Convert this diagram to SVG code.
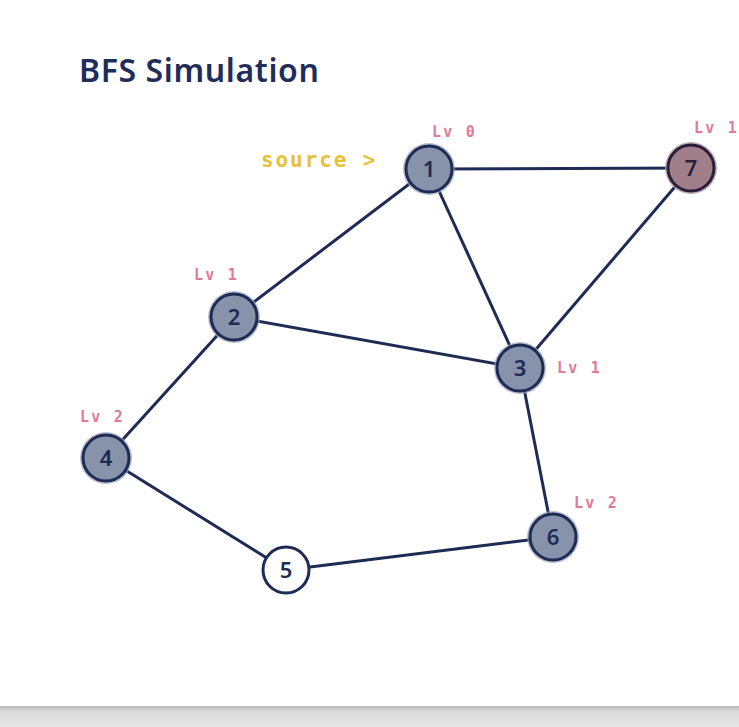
<svg xmlns="http://www.w3.org/2000/svg" width="739" height="727" viewBox="0 0 739 727">
<defs>
<style>
.title{font-family:"Noto Sans","Open Sans",sans-serif;font-weight:600;font-size:32px;letter-spacing:0.6px;fill:#1f2d5a}
.edge{stroke:#1e2b55;stroke-width:3;fill:none}
.halo{fill:#9aa3b8;opacity:0.7}
.node{fill:#8693aa;stroke:#1e2b55;stroke-width:3}
.num{font-family:"Noto Sans","Open Sans",sans-serif;font-weight:600;font-size:22px;fill:#1e2b55;text-anchor:middle}
.lv{font-family:"DejaVu Sans Mono","Liberation Mono",monospace;font-weight:bold;font-size:15px;letter-spacing:2.2px;fill:#e07a9a}
.src{font-family:"DejaVu Sans Mono","Liberation Mono",monospace;font-weight:bold;font-size:21px;letter-spacing:1.9px;fill:#e8c13a}
</style>
<linearGradient id="bar" x1="0" y1="0" x2="0" y2="1">
<stop offset="0" stop-color="#b9b9b9"/>
<stop offset="0.25" stop-color="#dadada"/>
<stop offset="1" stop-color="#e6e6e6"/>
</linearGradient>
</defs>
<rect width="739" height="727" fill="#ffffff"/>
<rect x="0" y="706" width="739" height="21" fill="url(#bar)"/>
<text class="title" x="79" y="82">BFS Simulation</text>
<g id="connectors">
<line class="edge" x1="429" y1="169" x2="691" y2="168"/>
<line class="edge" x1="429" y1="169" x2="234" y2="317"/>
<line class="edge" x1="429" y1="169" x2="520" y2="368"/>
<line class="edge" x1="234" y1="317" x2="520" y2="368"/>
<line class="edge" x1="691" y1="168" x2="520" y2="368"/>
<line class="edge" x1="234" y1="317" x2="106" y2="458"/>
<line class="edge" x1="106" y1="458" x2="286" y2="570"/>
<line class="edge" x1="286" y1="570" x2="553" y2="537"/>
<line class="edge" x1="520" y1="368" x2="553" y2="537"/>
</g>
<text class="src" x="261" y="167">source &gt;</text>
<g id="node1">
<circle class="halo" cx="429" cy="169" r="26"/>
<circle class="node" cx="429" cy="169" r="23"/>
<text class="num" x="429" y="177">1</text>
<text class="lv" x="432" y="137">Lv 0</text>
</g>
<g id="node7">
<circle cx="691" cy="168" r="26" fill="#b49aa3" opacity="0.8"/>
<circle cx="691" cy="168" r="23" fill="#a07f8a" stroke="#2a1f3a" stroke-width="3"/>
<text class="num" x="691" y="176" style="fill:#2a1f3a">7</text>
<text class="lv" x="694" y="133">Lv 1</text>
</g>
<g id="node2">
<circle class="halo" cx="234" cy="317" r="26"/>
<circle class="node" cx="234" cy="317" r="23"/>
<text class="num" x="234" y="325">2</text>
<text class="lv" x="194" y="280">Lv 1</text>
</g>
<g id="node3">
<circle class="halo" cx="520" cy="368" r="26"/>
<circle class="node" cx="520" cy="368" r="23"/>
<text class="num" x="520" y="376">3</text>
<text class="lv" x="557" y="373">Lv 1</text>
</g>
<g id="node4">
<circle class="halo" cx="106" cy="458" r="26"/>
<circle class="node" cx="106" cy="458" r="23"/>
<text class="num" x="106" y="466">4</text>
<text class="lv" x="80" y="422">Lv 2</text>
</g>
<g id="node5">
<circle cx="286" cy="570" r="23" fill="#ffffff" stroke="#1e2b55" stroke-width="3"/>
<text class="num" x="286" y="578">5</text>
</g>
<g id="node6">
<circle class="halo" cx="553" cy="537" r="26"/>
<circle class="node" cx="553" cy="537" r="23"/>
<text class="num" x="553" y="545">6</text>
<text class="lv" x="574" y="508">Lv 2</text>
</g>
</svg>
